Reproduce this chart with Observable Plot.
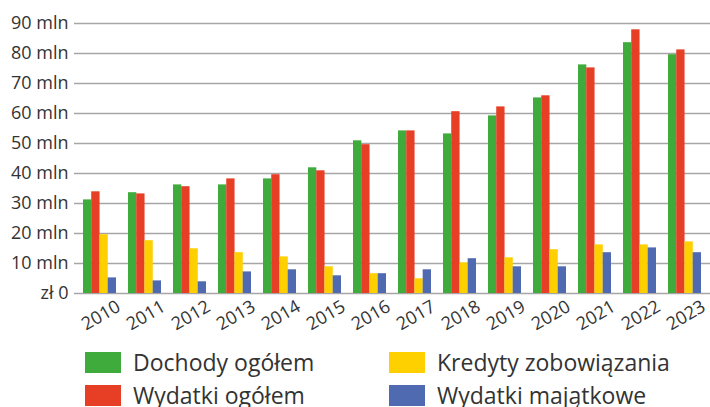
<!DOCTYPE html>
<html>
<head>
<meta charset="utf-8">
<script src="https://cdn.jsdelivr.net/npm/d3@7"></script>
<script src="https://cdn.jsdelivr.net/npm/@observablehq/plot@0.6"></script>
<style>
  body { margin: 0; background: #fff; font-family: "Open Sans", sans-serif; }
  #legend { position: relative; height: 71px; overflow: hidden; }
  .item { position: absolute; display: flex; align-items: center; font-size: 23px; line-height: 21px; color: #333; white-space: nowrap; }
  .sw { width: 36px; height: 21px; margin-right: 12px; flex: none; }
</style>
</head>
<body>
<div id="chart"></div>
<div id="legend"></div>
<script>
const years = ["2010","2011","2012","2013","2014","2015","2016","2017","2018","2019","2020","2021","2022","2023"];
const seriesNames = ["Dochody ogółem", "Wydatki ogółem", "Kredyty zobowiązania", "Wydatki majątkowe"];
const seriesColors = ["#3eab3c", "#e63f26", "#ffd000", "#506ab1"];
const dochody   = [31.2, 33.6, 36.2, 36.2, 38.2, 41.9, 50.9, 54.2, 53.2, 59.2, 65.2, 76.2, 83.6, 79.6];
const wydatki   = [33.9, 33.2, 35.6, 38.2, 39.6, 40.9, 49.6, 54.2, 60.6, 62.2, 65.9, 75.2, 87.9, 81.2];
const kredyty   = [19.6, 17.6, 14.9, 13.6, 12.2, 8.9, 6.6, 4.9, 10.2, 11.9, 14.6, 16.2, 16.2, 17.2];
const majatkowe = [5.2, 4.2, 3.9, 7.2, 7.9, 5.9, 6.6, 7.9, 11.6, 8.9, 8.9, 13.6, 15.2, 13.6];
const yTicks = [0, 10, 20, 30, 40, 50, 60, 70, 80, 90];
const yTickLabels = ["zł 0", "10 mln", "20 mln", "30 mln", "40 mln", "50 mln", "60 mln", "70 mln", "80 mln", "90 mln"];

const seriesValues = [dochody, wydatki, kredyty, majatkowe];
const bandW = 32.9;
const q = bandW / 4;

const marks = [
  Plot.ruleY(yTicks, {stroke: "#a6a6a6", strokeWidth: 1.6}),
];
seriesValues.forEach((vals, i) => {
  const data = years.map((y, j) => ({year: y, value: vals[j]}));
  marks.push(Plot.barY(data, {
    x: "year", y: "value", fill: seriesColors[i],
    insetLeft: i * q, insetRight: (3 - i) * q
  }));
});
marks.push(Plot.axisY({
  ticks: yTicks, tickSize: 0, tickPadding: 6,
  tickFormat: (d) => yTickLabels[yTicks.indexOf(d)],
  fontSize: 18, fill: "#333", label: null
}));
marks.push(Plot.text(years, {
  x: (d) => d, text: (d) => d, frameAnchor: "bottom", rotate: -30,
  textAnchor: "middle", lineAnchor: "middle", dy: 22, dx: 1,
  fontSize: 18, fill: "#333"
}));

const chart = Plot.plot({
  width: 710, height: 336,
  marginLeft: 74, marginRight: 0, marginTop: 23, marginBottom: 43,
  style: {fontFamily: "Open Sans", color: "#333", background: "#fff", overflow: "visible"},
  x: {type: "band", domain: years, paddingInner: 0.27, paddingOuter: 0.2, axis: null},
  y: {domain: [0, 90]},
  marks
});
document.getElementById("chart").appendChild(chart);

const legend = document.getElementById("legend");
const pos = [[85, 16], [85, 49], [389, 16], [389, 49]];
[0, 1, 2, 3].forEach((i) => {
  const it = document.createElement("div");
  it.className = "item";
  it.style.left = pos[i][0] + "px";
  it.style.top = pos[i][1] + "px";
  const sw = document.createElement("div");
  sw.className = "sw";
  sw.style.background = seriesColors[i];
  const t = document.createElement("span");
  t.textContent = seriesNames[i];
  it.appendChild(sw); it.appendChild(t);
  legend.appendChild(it);
});
</script>
</body>
</html>
